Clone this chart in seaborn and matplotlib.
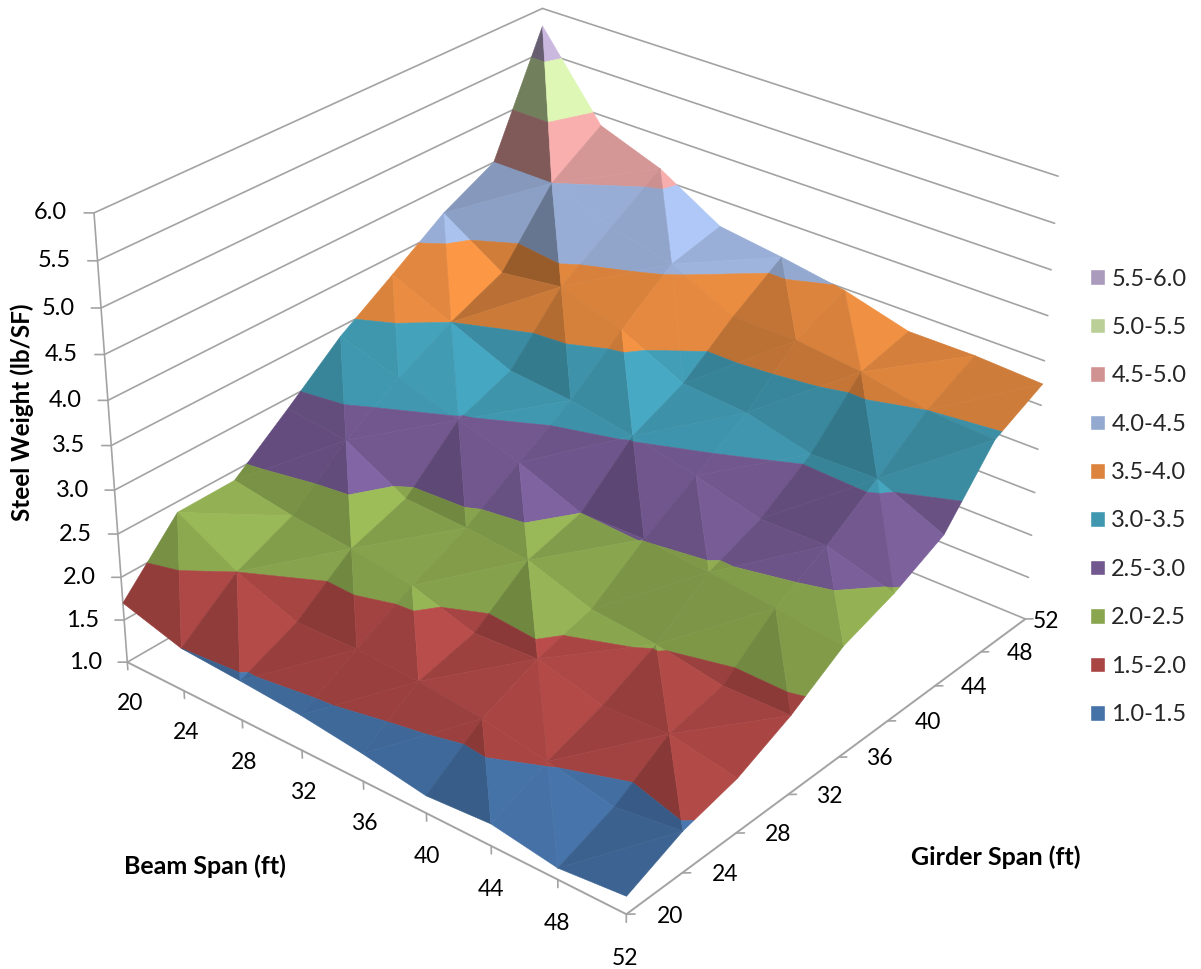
import numpy as np
import matplotlib
matplotlib.use('Agg')
import matplotlib.pyplot as plt
import seaborn as sns
from matplotlib.patches import Patch
from mpl_toolkits.mplot3d import proj3d
from mpl_toolkits.mplot3d.art3d import Poly3DCollection

sns.set_theme(style='white')
plt.rcParams['font.family'] = ['Lato', 'DejaVu Sans']

# Steel weight (lb/SF), one list per beam span, girder span 20 -> 52
beam_spans = [20, 24, 28, 32, 36, 40, 44, 48, 52]
girder_spans = [20, 24, 28, 32, 36, 40, 44, 48, 52]
w_b20 = [1.70, 2.38, 2.39, 2.88, 3.39, 3.79, 4.20, 4.50, 5.80]
w_b24 = [1.50, 2.00, 2.28, 2.80, 3.18, 3.50, 3.76, 4.50, 4.88]
w_b28 = [1.46, 1.74, 2.21, 2.42, 2.98, 3.21, 3.86, 4.24, 4.62]
w_b32 = [1.41, 1.76, 2.10, 2.39, 2.78, 3.15, 3.63, 4.07, 4.20]
w_b36 = [1.32, 1.73, 1.88, 2.33, 2.50, 3.03, 3.29, 3.73, 4.10]
w_b40 = [1.20, 1.65, 1.92, 2.09, 2.51, 2.87, 3.24, 3.73, 3.98]
w_b44 = [1.25, 1.52, 1.73, 2.02, 2.45, 2.68, 3.06, 3.65, 3.78]
w_b48 = [1.13, 1.37, 1.76, 1.89, 2.37, 2.69, 3.08, 3.50, 3.78]
w_b52 = [1.20, 1.47, 1.62, 1.90, 2.27, 2.47, 2.75, 3.46, 3.74]

band_edges = [1.0, 1.5, 2.0, 2.5, 3.0, 3.5, 4.0, 4.5, 5.0, 5.5, 6.0]
band_labels = ['1.0-1.5', '1.5-2.0', '2.0-2.5', '2.5-3.0', '3.0-3.5',
               '3.5-4.0', '4.0-4.5', '4.5-5.0', '5.0-5.5', '5.5-6.0']
band_colors = ['#4572a7', '#a94644', '#89a54e', '#72588f', '#4098b0',
               '#dc843d', '#94a9d0', '#d09392', '#bacf97', '#aa9abb']
palette = sns.color_palette(band_colors)

weights = np.array([w_b20, w_b24, w_b28, w_b32, w_b36, w_b40, w_b44, w_b48, w_b52])
box = np.array([1, 0.9998, 0.7734])
light = np.array([0.75, 0.25, 0.6])
light = light / np.linalg.norm(light)
GRID = '#a3a3a3'


def clip_z(poly, level, keep_above):
    # Sutherland-Hodgman against one horizontal plane
    out = []
    for i in range(len(poly)):
        a, b = poly[i], poly[(i + 1) % len(poly)]
        ina = a[2] >= level if keep_above else a[2] <= level
        inb = b[2] >= level if keep_above else b[2] <= level
        if ina:
            out.append(a)
        if ina != inb:
            t = (level - a[2]) / (b[2] - a[2])
            out.append(tuple(a[k] + t * (b[k] - a[k]) for k in range(3)))
    return out


def facet_shade(tri):
    p = np.array(tri) * box / np.array([32, 32, 5])
    n = np.cross(p[1] - p[0], p[2] - p[0])
    n = n / np.linalg.norm(n)
    if n[2] < 0:
        n = -n
    return 0.53 + 0.78 * n.dot(light)


polys, colors = [], []
for i in range(len(beam_spans) - 1):
    for j in range(len(girder_spans) - 1):
        p00 = (beam_spans[i], girder_spans[j], weights[i, j])
        p01 = (beam_spans[i], girder_spans[j + 1], weights[i, j + 1])
        p10 = (beam_spans[i + 1], girder_spans[j], weights[i + 1, j])
        p11 = (beam_spans[i + 1], girder_spans[j + 1], weights[i + 1, j + 1])
        # the cell folds along its higher diagonal
        if p00[2] + p11[2] >= p01[2] + p10[2]:
            tris = [(p00, p11, p01), (p00, p10, p11)]
        else:
            tris = [(p01, p10, p00), (p01, p11, p10)]
        for tri in tris:
            shade = facet_shade(tri)
            for k in range(len(band_labels)):
                part = clip_z(list(tri), band_edges[k], True)
                if part:
                    part = clip_z(part, band_edges[k + 1], False)
                if len(part) >= 3:
                    polys.append(part)
                    colors.append(tuple(np.clip(np.array(palette[k]) * shade, 0, 1)))

fig = plt.figure(figsize=(12.01, 9.69), dpi=100)
fig.patch.set_facecolor('white')
ax = fig.add_axes([50.58 / 1201, 13.3 / 969, 1033 / 1201, 1033 / 969], projection='3d')
ax.set_xlim(20, 52)
ax.set_ylim(20, 52)
ax.set_zlim(1, 6)
ax.view_init(29.2614, -50.1654, -0.0489)
ax.set_proj_type('persp', focal_length=0.631)
ax.set_box_aspect(tuple(box))
ax.set_axis_off()
ax.patch.set_alpha(0)


def tick_label(x, y, z, s, ha, size):
    # the label goes through the 3d projection once, then stays a plain text
    px, py, _ = proj3d.proj_transform(x, y, z, ax.get_proj())
    ax.text2D(px, py, s, transform=ax.transData, ha=ha, va='center',
              fontsize=size, color='black', clip_on=False)


# walls
z_levels = np.arange(1.0, 6.5, 0.5)
for z in z_levels:
    ax.plot([20, 20], [20, 52], [z, z], color=GRID, lw=1.2, zorder=1)
    ax.plot([20, 52], [52, 52], [z, z], color=GRID, lw=1.2, zorder=1)
ax.plot([20, 20], [20, 20], [1, 6], color=GRID, lw=1.2, zorder=1)
ax.plot([20, 52], [20, 20], [1, 1], color=GRID, lw=1.4, zorder=1)
ax.plot([52, 52], [20, 52], [1, 1], color=GRID, lw=1.4, zorder=1)

# ticks and their labels
for z in z_levels:
    ax.plot([20, 19.65], [20, 19.71], [z, z], color=GRID, lw=1.2)
    tick_label(19.05, 19.2, z, '%.1f' % z, 'right', 17)
for b in beam_spans:
    ax.plot([b, b], [20, 20], [1, 0.91], color=GRID, lw=1.2)
    tick_label(b - 0.05, 20, 0.5, str(b), 'center', 16.5)
for g in girder_spans:
    ax.plot([52, 52.29], [g, g + 0.26], [1, 1], color=GRID, lw=1.2)
    off = 0.72 if g == 52 else 1.3
    tick_label(52 + 1.12 * off, g + off, 0.97, str(g), 'center', 16.5)

surf = Poly3DCollection(polys, facecolors=colors, edgecolors=colors, linewidths=0.4, zorder=5)
ax.add_collection3d(surf)
ax.set_xlim(20, 52)
ax.set_ylim(20, 52)
ax.set_zlim(1, 6)

fig.text(22 / 1201, 1 - 412 / 969, 'Steel Weight (lb/SF)', rotation=90, ha='center', va='center',
         fontsize=17.5, fontweight='bold', color='black')
fig.text(205 / 1201, 1 - 866 / 969, 'Beam Span (ft)', ha='center', va='center',
         fontsize=18, fontweight='bold', color='black')
fig.text(996 / 1201, 1 - 857 / 969, 'Girder Span (ft)', ha='center', va='center',
         fontsize=18, fontweight='bold', color='black')

handles = [Patch(facecolor=palette[k], label=band_labels[k]) for k in range(len(band_labels))][::-1]
fig.legend(handles=handles, loc='upper left', bbox_to_anchor=(1090 / 1201, 1 - 268.5 / 969),
           frameon=False, fontsize=17, handlelength=0.64, handleheight=0.64, handletextpad=0.26,
           labelspacing=1.16, borderpad=0, borderaxespad=0)

fig.savefig('out.png', dpi=100)
